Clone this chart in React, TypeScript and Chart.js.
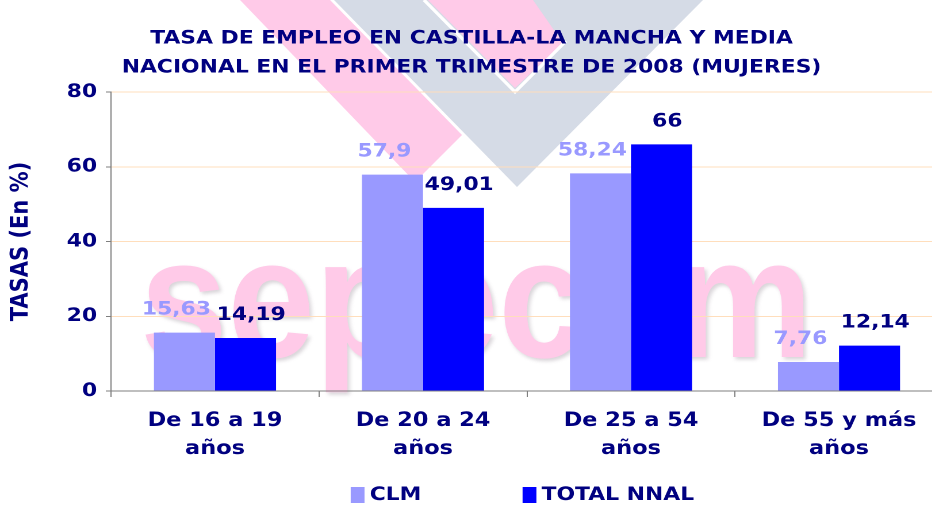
import React, { useEffect, useRef } from "react";
import { Chart, registerables } from "chart.js";

Chart.register(...registerables);

// ---- data ----
const TITLE_LINES = [
  "TASA DE EMPLEO EN CASTILLA-LA MANCHA Y MEDIA",
  "NACIONAL EN EL PRIMER TRIMESTRE DE 2008 (MUJERES)",
];
const CATEGORIES = [
  ["De 16 a 19", "años"],
  ["De 20 a 24", "años"],
  ["De 25 a 54", "años"],
  ["De 55 y más", "años"],
];
const SERIES_NAMES = ["CLM", "TOTAL NNAL"];
const CLM_VALUES = [15.63, 57.9, 58.24, 7.76];
const NNAL_VALUES = [14.19, 49.01, 66, 12.14];
const Y_MIN = 0;
const Y_MAX = 80;
const Y_STEP = 20;
const Y_AXIS_TITLE = "TASAS (En %)";
const WATERMARK_TEXT = "sepecam";

// ---- styles ----
const S = 1.15; // horizontal stretch of the reference picture
const W = 822;
const H = 519;
const NAVY = "#000080";
const CLM_COLOR = "#9999FF";
const NNAL_COLOR = "#0000FF";
const GRID = "rgb(255,222,188)";
const AXIS = "#7f7f7f";
const PINK = "rgb(255,202,232)";
const GRAY_V = "rgb(213,219,230)";
const FONT = '"DejaVu Sans", Verdana, sans-serif';
const LABEL_COLORS = [CLM_COLOR, NAVY];
const LABEL_DX = [-7, 5];

const sx = (x: number) => x / S;

function poly(ctx: CanvasRenderingContext2D, pts: number[][], color: string) {
  ctx.beginPath();
  pts.forEach(([x, y], i) => (i === 0 ? ctx.moveTo(sx(x), y) : ctx.lineTo(sx(x), y)));
  ctx.closePath();
  ctx.fillStyle = color;
  ctx.fill();
}

const watermark = {
  id: "watermark",
  beforeDraw(chart: any) {
    const ctx: CanvasRenderingContext2D = chart.ctx;
    ctx.save();
    poly(ctx, [[240, 0], [330, 0], [462, 135], [415, 182]], PINK);
    poly(ctx, [[334, 0], [517, 187], [703, 0]], GRAY_V);
    poly(ctx, [[428, 0], [533, 0], [563, 43], [515, 88]], PINK);
    ctx.strokeStyle = "#ffffff";
    ctx.lineWidth = 3;
    ctx.beginPath();
    ctx.moveTo(sx(424), 0);
    ctx.lineTo(sx(515), 92);
    ctx.lineTo(sx(566), 41);
    ctx.stroke();
    ctx.font = 'bold 170px "Liberation Sans", Arial, sans-serif';
    ctx.textAlign = "left";
    ctx.textBaseline = "alphabetic";
    ctx.shadowColor = "rgba(160,150,160,0.4)";
    ctx.shadowOffsetX = 4;
    ctx.shadowOffsetY = 5;
    ctx.shadowBlur = 7;
    ctx.fillStyle = PINK;
    ctx.fillText(WATERMARK_TEXT, sx(140), 357, sx(813) - sx(140));
    ctx.restore();
  },
};

const valueLabels = {
  id: "valueLabels",
  afterDatasetsDraw(chart: any) {
    const ctx: CanvasRenderingContext2D = chart.ctx;
    ctx.save();
    ctx.font = `bold 19px ${FONT}`;
    ctx.textAlign = "center";
    ctx.textBaseline = "alphabetic";
    chart.data.datasets.forEach((ds: any, di: number) => {
      const meta = chart.getDatasetMeta(di);
      meta.data.forEach((bar: any, i: number) => {
        const v = ds.data[i] as number;
        ctx.fillStyle = LABEL_COLORS[di];
        ctx.fillText(String(v).replace(".", ","), bar.x + LABEL_DX[di], bar.y - 18);
      });
    });
    ctx.restore();
  },
};

// Excel-style legend: fixed-width entries, small gap between swatch and text
const legendRow = {
  id: "legendRow",
  afterDraw(chart: any) {
    const ctx: CanvasRenderingContext2D = chart.ctx;
    const boxW = 12;
    const boxH = 16;
    const gap = 4.5;
    const spacing = 88;
    const cy = 495;
    ctx.save();
    ctx.font = `bold 19px ${FONT}`;
    ctx.textBaseline = "middle";
    ctx.textAlign = "left";
    const items = chart.data.datasets.map((ds: any) => ({
      text: ds.label as string,
      color: ds.backgroundColor as string,
    }));
    const widths = items.map((it: any) => boxW + gap + ctx.measureText(it.text).width);
    const total =
      widths.reduce((a: number, b: number) => a + b, 0) + spacing * (items.length - 1);
    const area = chart.chartArea;
    let x = (area.left + area.right) / 2 - total / 2 - 4;
    items.forEach((it: any, i: number) => {
      ctx.fillStyle = it.color;
      ctx.fillRect(x, cy - boxH / 2, boxW, boxH);
      ctx.fillStyle = NAVY;
      ctx.fillText(it.text, x + boxW + gap, cy);
      x += widths[i] + spacing;
    });
    ctx.restore();
  },
};

export default function App() {
  const ref = useRef<HTMLCanvasElement>(null);

  useEffect(() => {
    document.body.style.margin = "0";
    const chart = new Chart(ref.current as HTMLCanvasElement, {
      type: "bar",
      data: {
        labels: CATEGORIES,
        datasets: [
          {
            label: SERIES_NAMES[0],
            data: CLM_VALUES,
            backgroundColor: CLM_COLOR,
            borderWidth: 0,
            categoryPercentage: 0.587,
            barPercentage: 1.0,
          },
          {
            label: SERIES_NAMES[1],
            data: NNAL_VALUES,
            backgroundColor: NNAL_COLOR,
            borderWidth: 0,
            categoryPercentage: 0.587,
            barPercentage: 1.0,
          },
        ],
      },
      options: {
        responsive: false,
        animation: false,
        devicePixelRatio: 2,
        layout: { padding: { left: 0, right: 2, top: 0, bottom: 0 } },
        plugins: {
          title: {
            display: true,
            text: TITLE_LINES,
            color: NAVY,
            font: { family: FONT, size: 19, weight: "bold", lineHeight: "29px" },
            padding: { top: 24, bottom: 10 },
          },
          legend: { display: false },
          tooltip: { enabled: false },
        },
        scales: {
          x: {
            grid: {
              offset: true,
              drawOnChartArea: false,
              drawTicks: true,
              tickLength: 6,
              color: AXIS,
              tickColor: AXIS,
            },
            border: { color: AXIS, width: 1 },
            ticks: {
              color: NAVY,
              font: { family: FONT, size: 19.5, weight: "bold", lineHeight: "28px" },
              padding: 10,
              maxRotation: 0,
              autoSkip: false,
            },
            afterFit: (s: any) => {
              s.height = 128;
            },
          },
          y: {
            min: Y_MIN,
            max: Y_MAX,
            ticks: {
              stepSize: Y_STEP,
              color: NAVY,
              font: { family: FONT, size: 19, weight: "bold" },
              padding: 7.5,
            },
            grid: {
              color: GRID,
              tickColor: AXIS,
              tickLength: 4.5,
              drawTicks: true,
            },
            border: { color: AXIS, width: 1 },
            title: {
              display: true,
              text: Y_AXIS_TITLE,
              color: NAVY,
              font: { family: FONT, size: 21, weight: "bold" },
              padding: { top: 6, bottom: 0 },
            },
            afterFit: (s: any) => {
              s.width = 96.5;
            },
          },
        },
      } as any,
      plugins: [watermark, valueLabels, legendRow],
    });
    return () => chart.destroy();
  }, []);

  return (
    <div
      style={{
        position: "fixed",
        left: 0,
        top: 0,
        width: 932,
        height: 519,
        overflow: "hidden",
        background: "#ffffff",
      }}
    >
      <div style={{ width: W, height: H, transform: `scaleX(${S})`, transformOrigin: "0 0" }}>
        <canvas ref={ref} width={W} height={H} style={{ display: "block" }} />
      </div>
    </div>
  );
}
